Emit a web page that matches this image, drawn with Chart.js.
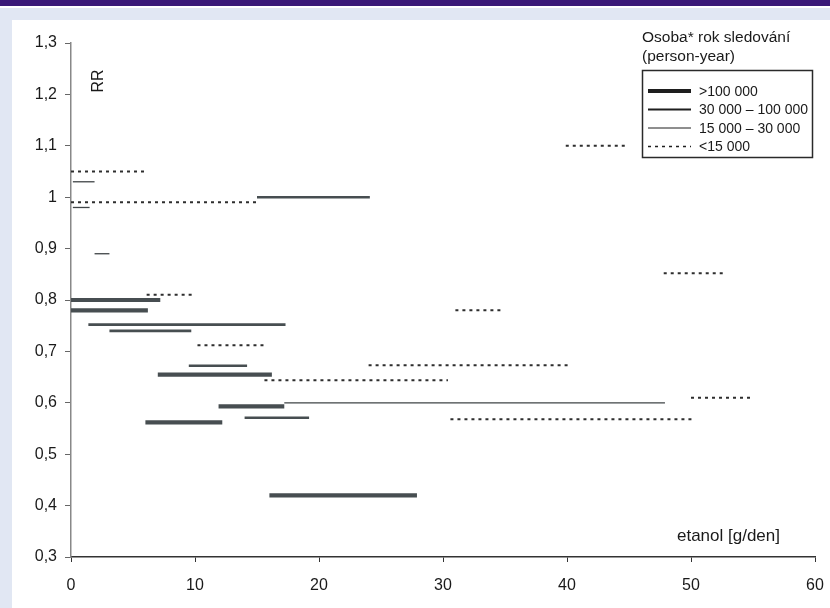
<!DOCTYPE html>
<html>
<head>
<meta charset="utf-8">
<script src="https://cdn.jsdelivr.net/npm/chart.js@4.4.1/dist/chart.umd.min.js"></script>
<style>
  html, body { margin: 0; padding: 0; }
  body { width: 830px; height: 608px; position: relative; overflow: hidden; background: #e1e7f3; font-family: "Liberation Sans", Arial, sans-serif; }
  #topband { position: absolute; left: 0; top: 0; width: 830px; height: 6px; background: #3a1877; }
  #topline { position: absolute; left: 0; top: 6px; width: 830px; height: 2px; background: #ffffff; }
  #panel { position: absolute; left: 12px; top: 20px; width: 818px; height: 588px; background: #ffffff; }
  #c { position: absolute; left: 0; top: 0; }
</style>
</head>
<body>
<div id="topband"></div>
<div id="topline"></div>
<div id="panel"></div>
<canvas id="c" width="830" height="608"></canvas>
<script>
// ---- data (RR vs. ethanol intake, g/day) ----
const xTicks = [0, 10, 20, 30, 40, 50, 60];
const yTicks = [0.3, 0.4, 0.5, 0.6, 0.7, 0.8, 0.9, 1.0, 1.1, 1.2, 1.3];

// >100 000 person-years
const thickY    = [0.80, 0.78, 0.655, 0.593, 0.562, 0.42];
const thickFrom = [0.0,  0.0,  7.0,   11.9,  6.0,   16.0];
const thickTo   = [7.2,  6.2,  16.2,  17.2,  12.2,  27.9];

// 30 000 – 100 000 person-years
const mediumY    = [1.0,  0.752, 0.74, 0.672, 0.571];
const mediumFrom = [15.0, 1.4,   3.1,  9.5,   14.0];
const mediumTo   = [24.1, 17.3,  9.7,  14.2,  19.2];

// 15 000 – 30 000 person-years
const thinY    = [1.03, 0.98, 0.89, 0.60];
const thinFrom = [0.15, 0.15, 1.9,  17.2];
const thinTo   = [1.9,  1.5,  3.1,  47.9];

// <15 000 person-years
const dotY    = [1.05, 0.99, 0.81, 0.712, 0.644, 0.673, 0.568, 0.61, 0.78, 0.852, 1.10];
const dotFrom = [0.0,  0.0,  6.1,  10.2,  15.6,  24.0,  30.6,  50.0, 31.0, 47.8,  39.9];
const dotTo   = [6.2,  15.0, 9.9,  15.6,  30.4,  40.1,  50.1,  55.0, 34.8, 52.7,  44.8];

const legendTitle = ["Osoba* rok sledování", "(person-year)"];
const legendLabels = [">100 000", "30 000 \u2013 100 000", "15 000 \u2013 30 000", "<15 000"];
const yTitle = "RR";
const xTitle = "etanol [g/den]";

// ---- styles ----
const styles = [
  { color: '#474e51', width: 4.2, dash: [] },
  { color: '#474e51', width: 2.6, dash: [] },
  { color: '#3f4446', width: 1.3, dash: [] },
  { color: '#2e2e2e', width: 2,   dash: [3, 4] }
];
const legendStyles = [
  { color: '#1e1e1e', width: 4,   dash: [] },
  { color: '#1e1e1e', width: 2,   dash: [] },
  { color: '#1e1e1e', width: 1,   dash: [] },
  { color: '#1e1e1e', width: 1.6, dash: [3, 4] }
];

const groups = [
  [thickY, thickFrom, thickTo],
  [mediumY, mediumFrom, mediumTo],
  [thinY, thinFrom, thinTo],
  [dotY, dotFrom, dotTo]
];

const datasets = [];
groups.forEach((g, gi) => {
  const [ys, xs1, xs2] = g;
  ys.forEach((y, i) => {
    datasets.push({
      label: legendLabels[gi],
      data: [{ x: xs1[i], y: y }, { x: xs2[i], y: y }],
      borderColor: styles[gi].color,
      borderWidth: styles[gi].width,
      borderDash: styles[gi].dash,
      borderCapStyle: 'butt',
      pointRadius: 0,
      fill: false,
      tension: 0
    });
  });
});

const FONT = '"Liberation Sans", Arial, sans-serif';

const annotations = {
  id: 'annotations',
  afterDraw(chart) {
    const ctx = chart.ctx;
    ctx.save();
    ctx.fillStyle = '#1a1a1a';
    // RR
    ctx.font = '16px ' + FONT;
    ctx.save();
    ctx.translate(99, 81);
    ctx.rotate(-Math.PI / 2);
    ctx.textAlign = 'center';
    ctx.textBaseline = 'middle';
    ctx.fillText(yTitle, 0, 0);
    ctx.restore();
    // x title
    ctx.font = '17px ' + FONT;
    ctx.textAlign = 'right';
    ctx.textBaseline = 'alphabetic';
    ctx.fillText(xTitle, 780, 541);
    // legend title
    ctx.font = '15.5px ' + FONT;
    ctx.textAlign = 'left';
    ctx.fillText(legendTitle[0], 642, 42);
    ctx.fillText(legendTitle[1], 642, 61);
    // legend box
    ctx.strokeStyle = '#2a2a2a';
    ctx.lineWidth = 1.5;
    ctx.strokeRect(642.5, 70.5, 170, 87);
    // legend entries
    ctx.font = '14px ' + FONT;
    ctx.textBaseline = 'middle';
    legendLabels.forEach((lab, i) => {
      const y = 91 + i * 18.5;
      const st = legendStyles[i];
      ctx.beginPath();
      ctx.setLineDash(st.dash);
      ctx.lineWidth = st.width;
      ctx.strokeStyle = st.color;
      ctx.moveTo(648, y);
      ctx.lineTo(691, y);
      ctx.stroke();
      ctx.setLineDash([]);
      ctx.fillText(lab, 699, y + 1);
    });
    ctx.restore();
  }
};

function fmt(v) {
  return String(Number(v.toFixed(1))).replace('.', ',');
}

new Chart(document.getElementById('c'), {
  type: 'line',
  data: { datasets: datasets },
  options: {
    responsive: false,
    animation: false,
    devicePixelRatio: 1,
    layout: { padding: { left: 0, top: 43, right: 15, bottom: 0 } },
    plugins: { legend: { display: false }, tooltip: { enabled: false }, title: { display: false } },
    scales: {
      x: {
        type: 'linear',
        min: 0, max: 60,
        afterBuildTicks(scale) { scale.ticks = xTicks.map(v => ({ value: v })); },
        afterFit(scale) { scale.height = 51; scale.paddingRight = 0; scale.paddingLeft = 0; },
        grid: { drawOnChartArea: false, drawTicks: true, tickLength: 5, color: '#333', lineWidth: 1 },
        border: { display: true, color: '#333', width: 1.5 },
        ticks: { color: '#1a1a1a', font: { family: FONT, size: 16 }, padding: 14, maxRotation: 0, autoSkip: false }
      },
      y: {
        type: 'linear',
        min: 0.3, max: 1.3,
        afterBuildTicks(scale) { scale.ticks = yTicks.map(v => ({ value: v })); },
        afterFit(scale) { scale.width = 71; scale.paddingTop = 0; scale.paddingBottom = 0; },
        grid: { drawOnChartArea: false, drawTicks: true, tickLength: 6, color: '#666', lineWidth: 1 },
        border: { display: true, color: '#888', width: 1.5 },
        ticks: { color: '#1a1a1a', font: { family: FONT, size: 16 }, padding: 8, autoSkip: false, callback: (v) => fmt(v) }
      }
    }
  },
  plugins: [annotations]
});
</script>
</body>
</html>
